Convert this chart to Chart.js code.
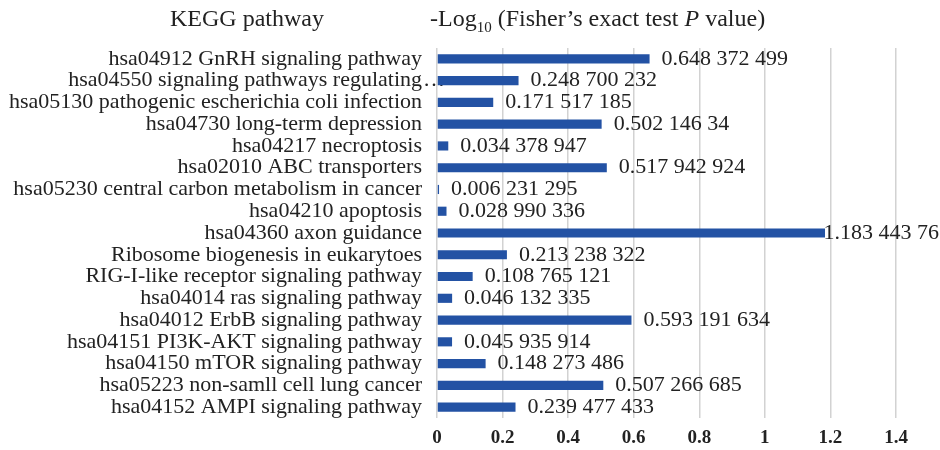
<!DOCTYPE html>
<html>
<head>
<meta charset="utf-8">
<title>KEGG pathway enrichment</title>
<script src="https://cdn.jsdelivr.net/npm/chart.js@4.4.1/dist/chart.umd.min.js"></script>
<style>
  html, body { margin: 0; padding: 0; background: #ffffff; }
  #c { display: block; }
</style>
</head>
<body>
<canvas id="c" width="940" height="450"></canvas>
<script>
// KEGG pathways, listed top to bottom
const pathways = [
  'hsa04912 GnRH signaling pathway',
  'hsa04550 signaling pathways regulating\u2026',
  'hsa05130 pathogenic escherichia coli infection',
  'hsa04730 long-term depression',
  'hsa04217 necroptosis',
  'hsa02010 ABC transporters',
  'hsa05230 central carbon metabolism in cancer',
  'hsa04210 apoptosis',
  'hsa04360 axon guidance',
  'Ribosome biogenesis in eukarytoes',
  'RIG-I-like receptor signaling pathway',
  'hsa04014 ras signaling pathway',
  'hsa04012 ErbB signaling pathway',
  'hsa04151 PI3K-AKT signaling pathway',
  'hsa04150 mTOR signaling pathway',
  'hsa05223 non-samll cell lung cancer',
  'hsa04152 AMPI signaling pathway'
];

// -log10(Fisher's exact test P value) for each pathway
const negLogP = [
  0.648372499,
  0.248700232,
  0.171517185,
  0.50214634,
  0.034378947,
  0.517942924,
  0.006231295,
  0.028990336,
  1.18344376,
  0.213238322,
  0.108765121,
  0.046132335,
  0.593191634,
  0.045935914,
  0.148273486,
  0.507266685,
  0.239477433
];

// value-axis ticks
const xTicks = [0, 0.2, 0.4, 0.6, 0.8, 1, 1.2, 1.4];

const categoryTitle = 'KEGG pathway';

const SERIF = '"Liberation Serif", "Times New Roman", serif';
const INK = '#222222';
const BAR_BLUE = '#2352a4';

// "0.648372499" -> "0.648 372 499"
function groupDigits(v) {
  const [intPart, frac = ''] = String(v).split('.');
  const groups = frac.match(/\d{1,3}/g) || [];
  return groups.length ? intPart + '.' + groups.join(' ') : intPart;
}

// Category names, right-aligned against the plot; a trailing ellipsis hangs past the edge
const categoryLabels = {
  id: 'categoryLabels',
  beforeDatasetsDraw(chart) {
    const { ctx, chartArea } = chart;
    const yScale = chart.scales.y;
    const edge = chartArea.left - 15;
    ctx.save();
    ctx.font = '22px ' + SERIF;
    ctx.fillStyle = INK;
    ctx.textBaseline = 'middle';
    ctx.textAlign = 'left';
    pathways.forEach((name, i) => {
      const y = yScale.getPixelForTick(i);
      let body = name, tail = '';
      if (name.endsWith('\u2026')) { body = name.slice(0, -1); tail = '\u2026'; }
      const w = ctx.measureText(body).width;
      ctx.fillText(body, edge - w, y);
      if (tail) ctx.fillText(tail, edge + 1, y);
    });
    ctx.restore();
  }
};

// Numeric value printed just past the end of each bar, kept inside the canvas
const valueLabels = {
  id: 'valueLabels',
  afterDatasetsDraw(chart) {
    const { ctx } = chart;
    const meta = chart.getDatasetMeta(0);
    ctx.save();
    ctx.font = '22px ' + SERIF;
    ctx.fillStyle = INK;
    ctx.textBaseline = 'middle';
    ctx.textAlign = 'left';
    meta.data.forEach((bar, i) => {
      const text = groupDigits(negLogP[i]);
      const w = ctx.measureText(text).width;
      const x = Math.min(bar.x + 12, chart.width - w - 1);
      ctx.fillText(text, x, bar.y);
    });
    ctx.restore();
  }
};

// Column headings above the labels and the bars
const headings = {
  id: 'headings',
  afterDraw(chart) {
    const { ctx } = chart;
    ctx.save();
    ctx.fillStyle = INK;
    ctx.textBaseline = 'alphabetic';
    ctx.textAlign = 'left';
    ctx.font = '24px ' + SERIF;
    ctx.fillText(categoryTitle, 170, 26);

    let x = 430;
    const base = 26;
    const put = (text, font, dy) => {
      ctx.font = font;
      ctx.fillText(text, x, base + (dy || 0));
      x += ctx.measureText(text).width;
    };
    put('-Log', '24px ' + SERIF);
    put('10', '15px ' + SERIF, 6);
    put(' (Fisher\u2019s exact test ', '24px ' + SERIF);
    put('P', 'italic 24px ' + SERIF);
    put(' value)', '24px ' + SERIF);
    ctx.restore();
  }
};

new Chart(document.getElementById('c'), {
  type: 'bar',
  data: {
    labels: pathways,
    datasets: [{
      data: negLogP,
      backgroundColor: BAR_BLUE,
      borderWidth: 0,
      categoryPercentage: 1,
      barPercentage: 0.42
    }]
  },
  options: {
    indexAxis: 'y',
    responsive: false,
    animation: false,
    devicePixelRatio: 1,
    layout: { padding: { top: 48, right: 44, bottom: 0, left: 0 } },
    plugins: {
      legend: { display: false },
      tooltip: { enabled: false },
      title: { display: false }
    },
    scales: {
      x: {
        type: 'linear',
        position: 'bottom',
        min: xTicks[0],
        max: xTicks[xTicks.length - 1],
        afterBuildTicks(scale) {
          scale.ticks = xTicks.map(v => ({ value: v }));
        },
        afterFit(scale) { scale.height = 32; },
        grid: { color: '#d2d2d2', lineWidth: 1.5, drawTicks: false },
        border: { display: false },
        ticks: {
          padding: 9,
          color: INK,
          font: { family: SERIF, size: 19, weight: 'bold' },
          callback: v => String(Math.round(v * 10) / 10)
        }
      },
      y: {
        type: 'category',
        position: 'left',
        afterFit(scale) { scale.width = 437; },
        grid: { display: false, drawTicks: false },
        border: { display: false },
        ticks: { display: false }
      }
    }
  },
  plugins: [categoryLabels, valueLabels, headings]
});
</script>
</body>
</html>
